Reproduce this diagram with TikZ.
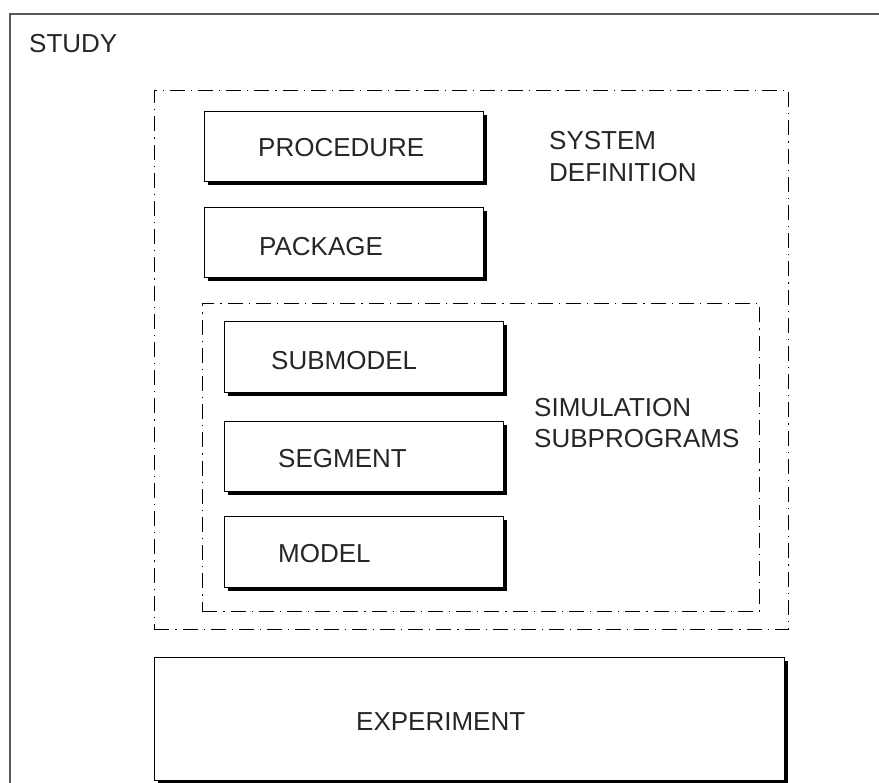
\documentclass[tikz,border=0pt]{standalone}
\usepackage{fontspec}
\setmainfont{Liberation Sans}
\usetikzlibrary{shadows}
\begin{document}
\begin{tikzpicture}[x=1pt,y=-1pt,
  lbl/.style={anchor=base west,inner sep=0pt,font=\fontsize{26}{26}\selectfont,text=black!85},
  boxnode/.style={draw=black,line width=1pt,fill=white,anchor=north west,inner sep=0pt,
    drop shadow={shadow xshift=3.2pt,shadow yshift=-3.2pt,fill=black,opacity=1}},
  groupbox/.style={draw=black,line width=0.9pt,dash pattern=on 15pt off 6pt on 1.2pt off 6pt,anchor=north west,inner sep=0pt}]
\useasboundingbox (0,0) rectangle (879,783);
\fill[white] (0,0) rectangle (879,783);
% outer STUDY frame (cut off at right and bottom)
\draw[line width=2pt,black!65] (10,790) -- (10,14) -- (890,14);
\node[lbl] (study) at (29,53) {STUDY};
% dash-dot containers
\node[groupbox,minimum width=634pt,minimum height=539pt] (sysdef) at (154,90) {};
\node[groupbox,minimum width=557pt,minimum height=308pt] (simsub) at (202,303) {};
% boxes
\node[boxnode,minimum width=279pt,minimum height=70pt] (proc) at (204,111) {};
\node[boxnode,minimum width=279pt,minimum height=70pt] (pack) at (204,207) {};
\node[boxnode,minimum width=279pt,minimum height=71pt] (sub) at (224,321) {};
\node[boxnode,minimum width=279pt,minimum height=70pt] (seg) at (224,421) {};
\node[boxnode,minimum width=279pt,minimum height=71pt] (model) at (224,516) {};
\node[boxnode,minimum width=630pt,minimum height=123pt] (exp) at (154,657) {};
% texts
\node[lbl] (proct) at (258,157) {PROCEDURE};
\node[lbl] (packt) at (259,256) {PACKAGE};
\node[lbl] (sys1) at (549,150) {SYSTEM};
\node[lbl] (sys2) at (549,182) {DEFINITION};
\node[lbl] (subt) at (271,370) {SUBMODEL};
\node[lbl] (segt) at (278,468) {SEGMENT};
\node[lbl] (modt) at (278,563) {MODEL};
\node[lbl] (sim1) at (534,417) {SIMULATION};
\node[lbl] (sim2) at (534,448) {SUBPROGRAMS};
\node[lbl] (expt) at (356,730) {EXPERIMENT};
\end{tikzpicture}
\end{document}
